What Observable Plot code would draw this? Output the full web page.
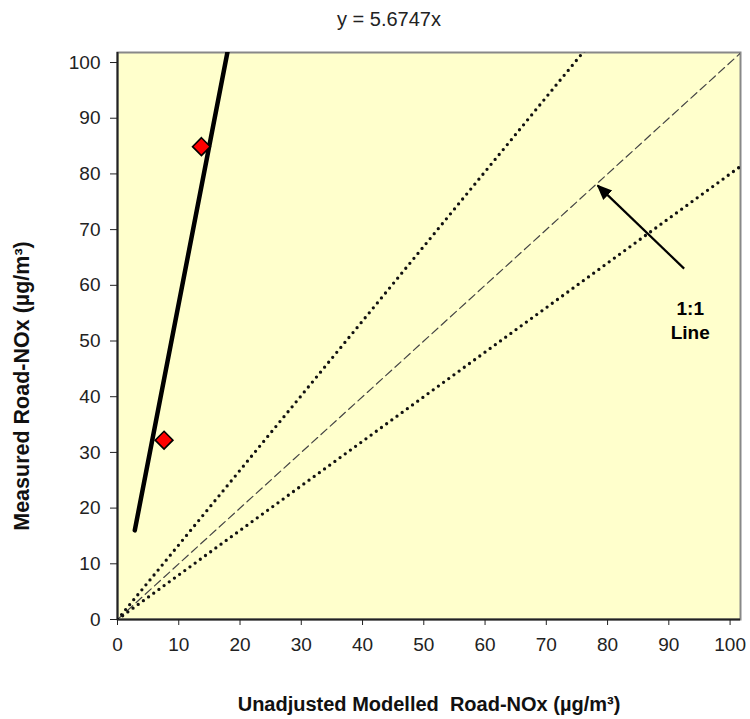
<!DOCTYPE html>
<html><head><meta charset="utf-8">
<script src="https://cdn.jsdelivr.net/npm/d3@7"></script>
<script src="https://cdn.jsdelivr.net/npm/@observablehq/plot@0.6"></script>
<style>body{margin:0;background:#fff}</style>
</head><body><div id="chart"></div>
<script>
// ---- data ----
const xTicks = [0, 10, 20, 30, 40, 50, 60, 70, 80, 90, 100];
const yTicks = [0, 10, 20, 30, 40, 50, 60, 70, 80, 90, 100];
const modelled = [7.6, 13.7];      // Unadjusted modelled road-NOx
const measured = [32.2, 84.9];     // Measured road-NOx
const fitSlope = 5.6747;
const fitRangeX = [2.82, 18];
const oneToOneSlope = 1;
const bandSlopes = [1.34, 0.8];
const xMax = 101.7, yMax = 101.8;
const arrowTail = [92.5, 63.0];
const arrowHead = [78.4, 77.9];
const noteText = ["1:1\nLine"];
const notePos = [93.5, 53.9];
const titleText = ["y = 5.6747x"];
const xLabel = ["Unadjusted Modelled\u00a0\u00a0Road-NOx (µg/m³)"];
const yLabel = ["Measured Road-NOx (µg/m³)"];

const pts = modelled.map((x, i) => ({x, y: measured[i]}));
const lineX = [0, xMax];
const fit = fitRangeX.map(x => ({x, y: fitSlope * x}));
const oneToOne = lineX.map(x => ({x, y: oneToOneSlope * x}));
const bands = bandSlopes.flatMap((s, k) => lineX.map(x => ({k, x, y: s * x})));

const chart = Plot.plot({
  width: 750, height: 719,
  marginLeft: 117, marginRight: 10, marginTop: 52, marginBottom: 100,
  style: {fontFamily: "'Liberation Sans', Arial, sans-serif", fontSize: "19px", color: "#222", background: "#fff"},
  x: {domain: [0, xMax]},
  y: {domain: [0, yMax]},
  marks: [
    Plot.frame({fill: "#FFFFCC", stroke: "#888", strokeWidth: 2}),
    Plot.ruleX([0], {stroke: "#222", strokeWidth: 2}),
    Plot.ruleY([0], {stroke: "#222", strokeWidth: 2}),
    Plot.axisX({ticks: xTicks, tickSize: 6, tickPadding: 12, label: null, fontSize: 19, stroke: "#222"}),
    Plot.axisY({ticks: yTicks, tickSize: 7, tickPadding: 10, label: null, fontSize: 19, stroke: "#222"}),
    Plot.line(oneToOne, {x: "x", y: "y", stroke: "#444", strokeWidth: 1.2, strokeDasharray: "8 4.5", clip: true}),
    Plot.line(bands, {x: "x", y: "y", z: "k", stroke: "#111", strokeWidth: 3.3, strokeDasharray: "0 6.4", strokeLinecap: "round", clip: true}),
    Plot.line(fit, {x: "x", y: "y", stroke: "#000", strokeWidth: 4.5, strokeLinecap: "round", clip: true}),
    Plot.dot(pts, {x: "x", y: "y", symbol: "diamond2", r: 8, fill: "#FF0000", stroke: "#000", strokeWidth: 1.6}),
    Plot.link([0], {x1: () => arrowTail[0], y1: () => arrowTail[1], x2: () => arrowHead[0], y2: () => arrowHead[1], stroke: "#000", strokeWidth: 2.2}),
    Plot.text(noteText, {x: () => notePos[0], y: () => notePos[1], text: d => d, fontWeight: "bold", fontSize: 19, lineHeight: 1.28, fill: "#000", textAnchor: "middle"}),
    Plot.text(titleText, {frameAnchor: "top", dx: -40, dy: -33, lineAnchor: "middle", fontSize: 20, fill: "#222", text: d => d}),
    Plot.text(xLabel, {frameAnchor: "bottom", dy: 85, lineAnchor: "middle", fontSize: 20, fontWeight: "bold", fill: "#111", text: d => d}),
    Plot.text(yLabel, {frameAnchor: "left", dx: -95.5, dy: 50, rotate: -90, textAnchor: "middle", lineAnchor: "middle", fontSize: 21.5, fontWeight: "bold", fill: "#111", text: d => d})
  ]
});

// filled arrowhead on the annotation link
const svg = d3.select(chart);
const defs = svg.insert("defs", ":first-child");
defs.append("marker").attr("id", "ahead").attr("viewBox", "0 -5 10 10")
  .attr("refX", 9).attr("refY", 0).attr("markerWidth", 7).attr("markerHeight", 7)
  .attr("markerUnits", "strokeWidth").attr("orient", "auto")
  .append("path").attr("d", "M0,-4.2L10,0L0,4.2Z").attr("fill", "#000");
svg.selectAll('g[aria-label="link"] path').attr("marker-end", "url(#ahead)");

document.getElementById("chart").appendChild(chart);
</script>
</body></html>
